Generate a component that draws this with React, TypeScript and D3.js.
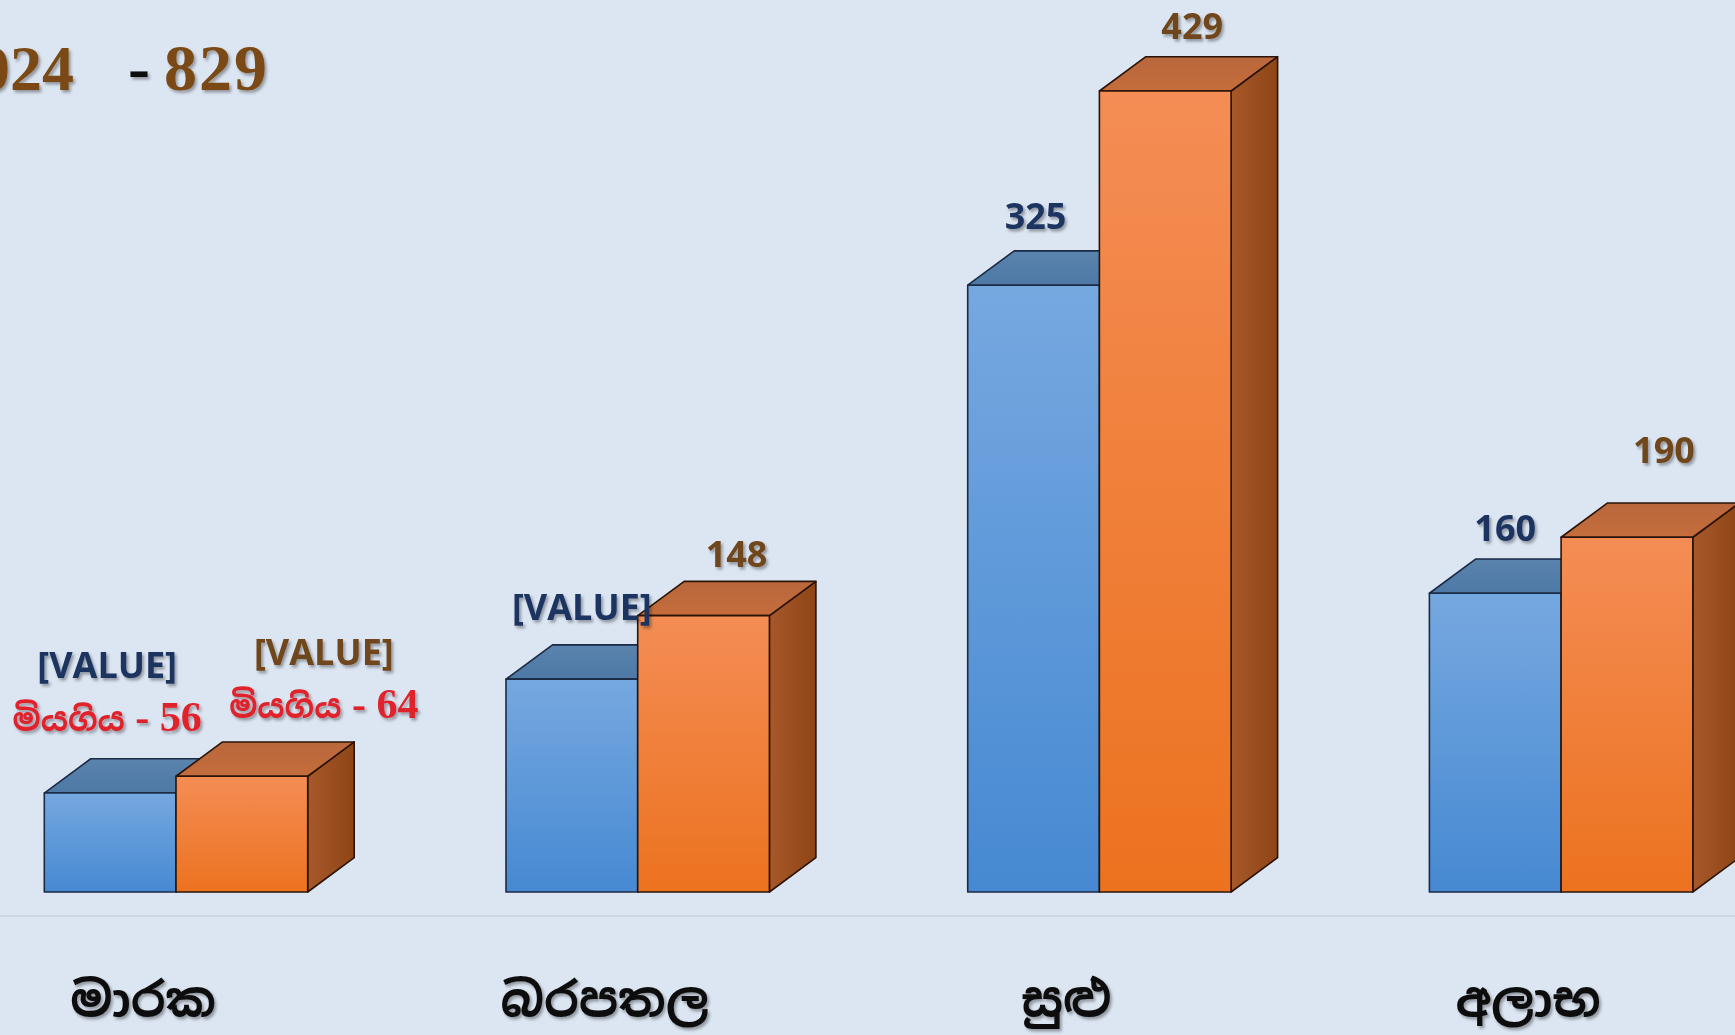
import React from "react";
import * as d3 from "d3";

// ---- data ----
const categories = ["මාරක", "බරපතල", "සුළු", "අලාභ"];
const seriesBlue = [53, 114, 325, 160];
const seriesOrange = [62, 148, 429, 190];
const blueLabels = ["[VALUE]", "[VALUE]", "325", "160"];
const orangeLabels = ["[VALUE]", "148", "429", "190"];
const deathWord = "මියගිය";
const deathBlue = 56;
const deathOrange = 64;
const titleYear = "2024";
const titleTotal = "829";

// ---- layout ----
const W = 1735;
const H = 1035;
const baseY = 892;
const topY = 91;
const firstX = 44.3;
const step = 461.7;
const barW = 131.7;
const depthX = 46.5;
const depthY = 34.3;

// label offsets (px) relative to front-face centre / front top
const blueLabelDx = [-3, 10, 2, 10];
const blueLabelDy = [115, 59, 56, 52];
const orangeLabelDx = [82, 33, 27, 37];
const orangeLabelDy = [111, 49, 52, 74];

const SIN = "'Noto Sans Sinhala', 'Noto Serif Sinhala', 'Iskoola Pota', 'LKLUG', sans-serif";

export default function App() {
  const x = d3
    .scaleBand<string>()
    .domain(categories)
    .range([firstX, firstX + step * categories.length])
    .paddingInner(0)
    .paddingOuter(0);
  const y = d3.scaleLinear().domain([0, 429]).range([baseY, topY]);

  const bar = (x0: number, v: number, kind: "b" | "o", key: string) => {
    const yt = y(v);
    const x1 = x0 + barW;
    const front = `M${x0},${yt}L${x1},${yt}L${x1},${baseY}L${x0},${baseY}Z`;
    const top = `M${x0},${yt}L${x0 + depthX},${yt - depthY}L${x1 + depthX},${yt - depthY}L${x1},${yt}Z`;
    const side = `M${x1},${yt}L${x1 + depthX},${yt - depthY}L${x1 + depthX},${baseY - depthY}L${x1},${baseY}Z`;
    const stroke = kind === "b" ? "#1b2a45" : "#2a1408";
    return (
      <g key={key}>
        <path d={side} fill={kind === "b" ? "url(#bSide)" : "url(#oSide)"} stroke={stroke} strokeWidth={1.6} strokeLinejoin="round" />
        <path d={top} fill={kind === "b" ? "url(#bTop)" : "url(#oTop)"} stroke={stroke} strokeWidth={1.6} strokeLinejoin="round" />
        <path d={front} fill={kind === "b" ? "url(#bFront)" : "url(#oFront)"} stroke={stroke} strokeWidth={1.6} strokeLinejoin="round" />
      </g>
    );
  };

  return (
    <svg
      width={W}
      height={H}
      viewBox={`0 0 ${W} ${H}`}
      style={{ position: "absolute", left: 0, top: 0, display: "block" }}
    >
      <defs>
        <linearGradient id="bFront" x1="0" y1="0" x2="0" y2="1">
          <stop offset="0" stopColor="#76a8e0" />
          <stop offset="1" stopColor="#4689d2" />
        </linearGradient>
        <linearGradient id="bTop" x1="0" y1="0" x2="0" y2="1">
          <stop offset="0" stopColor="#5a83ad" />
          <stop offset="1" stopColor="#4e79a6" />
        </linearGradient>
        <linearGradient id="bSide" x1="0" y1="0" x2="1" y2="0">
          <stop offset="0" stopColor="#3f6fa6" />
          <stop offset="1" stopColor="#2f5a8c" />
        </linearGradient>
        <linearGradient id="oFront" x1="0" y1="0" x2="0" y2="1">
          <stop offset="0" stopColor="#f48d55" />
          <stop offset="1" stopColor="#ec721f" />
        </linearGradient>
        <linearGradient id="oTop" x1="0" y1="0" x2="0" y2="1">
          <stop offset="0" stopColor="#b9673d" />
          <stop offset="1" stopColor="#c56d3b" />
        </linearGradient>
        <linearGradient id="oSide" x1="0" y1="0" x2="1" y2="0">
          <stop offset="0" stopColor="#a8582a" />
          <stop offset="1" stopColor="#8e4516" />
        </linearGradient>
        <filter id="shadow" x="-20%" y="-20%" width="140%" height="160%">
          <feDropShadow dx="2" dy="2.5" stdDeviation="1.5" floodColor="#000" floodOpacity="0.35" />
        </filter>
      </defs>

      <rect x={0} y={0} width={W} height={H} fill="#dce6f3" />

      {/* separator line */}
      <line x1={0} x2={W} y1={916} y2={916} stroke="#cdd6e1" strokeWidth={2} />

      {/* title */}
      <text
        x={-54}
        y={90}
        fontFamily="'Liberation Serif', serif"
        fontWeight="bold"
        fontSize={64}
        fill="#7a4a14"
        filter="url(#shadow)"
      >
        {titleYear}
      </text>
      <text
        x={128}
        y={90}
        fontFamily="'Liberation Serif', serif"
        fontWeight="bold"
        fontSize={66}
        fill="#7a4a14"
        filter="url(#shadow)"
      >
        <tspan fill="#111">-</tspan>
        <tspan dx={14} letterSpacing={2}>{titleTotal}</tspan>
      </text>

      {/* bars */}
      {categories.map((c, i) => {
        const x0 = x(c)!;
        return (
          <g key={c}>
            {bar(x0, seriesBlue[i], "b", "b" + i)}
            {bar(x0 + barW, seriesOrange[i], "o", "o" + i)}
          </g>
        );
      })}

      {/* value labels */}
      {categories.map((c, i) => {
        const x0 = x(c)!;
        return (
          <g key={"l" + c} fontFamily="'Open Sans', sans-serif" fontWeight="bold" fontSize={36} textAnchor="middle" filter="url(#shadow)">
            <text x={x0 + barW / 2 + blueLabelDx[i]} y={y(seriesBlue[i]) - blueLabelDy[i]} fill="#1f3461">
              {blueLabels[i]}
            </text>
            <text x={x0 + barW * 1.5 + orangeLabelDx[i]} y={y(seriesOrange[i]) - orangeLabelDy[i]} fill="#70461a">
              {orangeLabels[i]}
            </text>
          </g>
        );
      })}

      {/* death labels for first category */}
      {(() => {
        const x0 = x(categories[0])!;
        const items = [
          { cx: x0 + barW / 2 - 3, yy: y(seriesBlue[0]) - 62, v: deathBlue },
          { cx: x0 + barW * 1.5 + 82, yy: y(seriesOrange[0]) - 58, v: deathOrange },
        ];
        return items.map((d, k) => (
          <text
            key={"d" + k}
            x={d.cx}
            y={d.yy}
            textAnchor="middle"
            fill="#e0202c"
            fontWeight="bold"
            filter="url(#shadow)"
          >
            <tspan fontFamily={SIN} fontSize={32}>{deathWord}</tspan>
            <tspan fontFamily="'Liberation Serif', serif" fontSize={42}>{" - " + d.v}</tspan>
          </text>
        ));
      })()}

      {/* category labels */}
      {categories.map((c) => (
        <text
          key={"c" + c}
          x={x(c)! + barW - 33}
          y={1016}
          textAnchor="middle"
          fontFamily={SIN}
          fontSize={48}
          fontWeight="bold"
          fill="#111"
          filter="url(#shadow)"
        >
          {c}
        </text>
      ))}
    </svg>
  );
}
